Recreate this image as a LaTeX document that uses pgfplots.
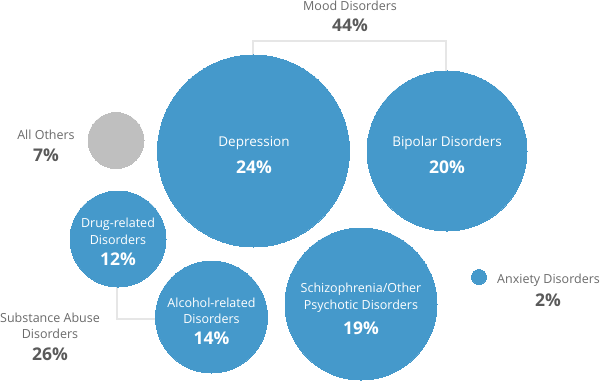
\documentclass[border=0pt]{standalone}
\usepackage{pgfplots}
\pgfplotsset{compat=1.18}
\usepackage{fontspec}
\setmainfont{Open Sans}
\definecolor{bubble}{HTML}{4599CB}
\definecolor{othergray}{HTML}{BFBFBF}
\definecolor{lab}{HTML}{6A6A6A}
\definecolor{pct}{HTML}{5A5A5A}
\definecolor{conn}{HTML}{E6E6E6}
\begin{document}
\begin{tikzpicture}
\begin{axis}[
  scale only axis, width=600pt, height=381pt,
  xmin=0, xmax=600, ymin=0, ymax=381, y dir=reverse,
  hide axis, clip=false, set layers=standard,
]
% connectors
\draw[conn, line width=2pt] (axis cs:253,55) -- (axis cs:253,41) -- (axis cs:446,41) -- (axis cs:446,72);
\draw[conn, line width=2pt] (axis cs:117,287) -- (axis cs:117,319) -- (axis cs:156,319);
% bubbles: x y radius(px) ; radius = 4 x share
\addplot[scatter, only marks, mark=*,
  scatter/use mapped color={draw=bubble, fill=bubble},
  mark options={line width=0pt},
  visualization depends on={\thisrow{r}\as\rad},
  scatter/@pre marker code/.append style={/tikz/mark size=\rad}]
  table {
x y r
253.5 151 96
447 151 80
361 304 76
211.5 317 56
118 239 48
479 277 7.5
};
\addplot[scatter, only marks, mark=*,
  scatter/use mapped color={draw=othergray, fill=othergray},
  mark options={line width=0pt},
  visualization depends on={\thisrow{r}\as\rad},
  scatter/@pre marker code/.append style={/tikz/mark size=\rad}]
  table {
x y r
116 140.5 28
};
% labels
\tikzset{lbl/.style={font=\fontsize{12.5}{14}\selectfont, anchor=center},
         blbl/.style={font=\fontsize{13.5}{15}\selectfont, anchor=center},
         pc/.style={font=\fontsize{17.5}{19}\selectfont\bfseries, anchor=center}}
\begin{pgfonlayer}{axis foreground}
\node[lbl, text=lab] at (axis cs:350,6) {Mood Disorders};
\node[pc, text=pct] at (axis cs:350,25) {44\%};
\node[blbl, text=white] at (axis cs:254,143) {Depression};
\node[pc, text=white] at (axis cs:254,167) {24\%};
\node[blbl, text=white] at (axis cs:447,143) {Bipolar Disorders};
\node[pc, text=white] at (axis cs:447,167) {20\%};
\node[lbl, text=lab] at (axis cs:46,135) {All Others};
\node[pc, text=pct] at (axis cs:46,155) {7\%};
\node[lbl, text=white] at (axis cs:118,224) {Drug-related};
\node[lbl, text=white] at (axis cs:118,240) {Disorders};
\node[pc, text=white] at (axis cs:118,259) {12\%};
\node[lbl, text=lab] at (axis cs:50,318) {Substance Abuse};
\node[lbl, text=lab] at (axis cs:50,334) {Disorders};
\node[pc, text=pct] at (axis cs:50,354) {26\%};
\node[lbl, text=white] at (axis cs:211.5,303) {Alcohol-related};
\node[lbl, text=white] at (axis cs:211.5,319) {Disorders};
\node[pc, text=white] at (axis cs:211.5,338) {14\%};
\node[lbl, text=white] at (axis cs:361,289) {Schizophrenia/Other};
\node[lbl, text=white] at (axis cs:361,306) {Psychotic Disorders};
\node[pc, text=white] at (axis cs:361,328) {19\%};
\node[lbl, text=lab, anchor=west, inner sep=0pt] at (axis cs:497,280) {Anxiety Disorders};
\node[pc, text=pct] at (axis cs:548,300) {2\%};
\end{pgfonlayer}
\end{axis}
\pgfresetboundingbox
\path (0,0) rectangle (600pt,381pt);
\end{tikzpicture}
\end{document}
